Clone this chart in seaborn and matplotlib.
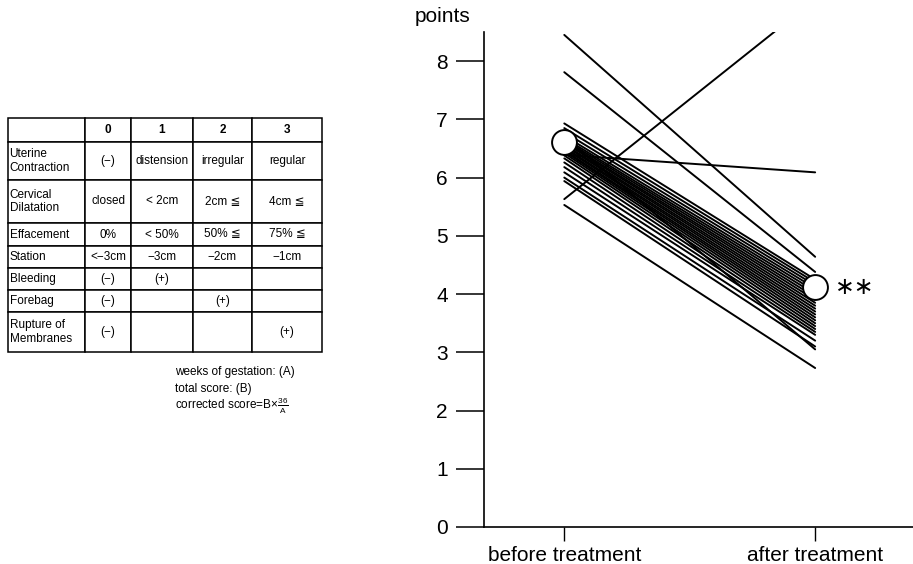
import pandas as pd
import numpy as np
import matplotlib
matplotlib.use("Agg")
import matplotlib.pyplot as plt
import seaborn as sns

# ---- data ----
time_labels = ["before treatment", "after treatment"]
before_scores = [8.45, 7.81, 5.63, 6.39, 6.93, 6.85, 6.78, 6.72, 6.68, 6.65,
                 6.62, 6.60, 6.57, 6.55, 6.52, 6.50, 6.47, 6.45, 6.42, 6.38,
                 6.33, 6.26, 6.18, 6.09, 6.00, 5.94, 5.53, 6.70]
after_scores = [4.64, 4.38, 9.06, 6.09, 4.25, 4.20, 4.15, 4.10, 4.05, 4.00,
                3.95, 3.90, 3.85, 3.80, 3.75, 3.70, 3.65, 3.60, 3.55, 3.50,
                3.45, 3.40, 3.35, 3.30, 3.20, 3.10, 2.73, 3.05]
mean_scores = [6.61, 4.12]
y_ticks = [0, 1, 2, 3, 4, 5, 6, 7, 8]

# scoring table
table_header = ["", "0", "1", "2", "3"]
table_rows = [
    ["Uterine\nContraction", "(\u2212)", "distension", "irregular", "regular"],
    ["Cervical\nDilatation", "closed", "< 2cm", "2cm \u2266", "4cm \u2266"],
    ["Effacement", "0%", "< 50%", "50% \u2266", "75% \u2266"],
    ["Station", "<\u22123cm", "\u22123cm", "\u22122cm", "\u22121cm"],
    ["Bleeding", "(\u2212)", "(+)", "", ""],
    ["Forebag", "(\u2212)", "", "(+)", ""],
    ["Rupture of\nMembranes", "(\u2212)", "", "", "(+)"],
]
table_notes = ["weeks of gestation: (A)", "total score: (B)",
               r"corrected score=B$\times\frac{36}{A}$"]

# long format for seaborn
n = len(before_scores)
df = pd.DataFrame({
    "patient": list(range(n)) * 2,
    "time": [0] * n + [1] * n,
    "score": before_scores + after_scores,
})
df_mean = pd.DataFrame({"time": [0, 1], "score": mean_scores})

sns.set_style("white")
plt.rcParams['font.family'] = ['Liberation Sans', 'DejaVu Sans']
plt.rcParams['mathtext.default'] = 'regular'
for key in ['text.color', 'axes.labelcolor', 'xtick.color', 'ytick.color']:
    plt.rcParams[key] = 'black'

W, H = 913, 564
fig = plt.figure(figsize=(W / 100, H / 100), dpi=100)

# ---- right: line chart ----
ax = fig.add_axes([484 / W, 1 - 527 / H, 1 - 484 / W, (527 - 32) / H])
sns.lineplot(data=df, x="time", y="score", units="patient", estimator=None,
             color="black", linewidth=1.4, ax=ax, legend=False)
sns.scatterplot(data=df_mean, x="time", y="score", s=320, facecolor="white",
                edgecolor="black", linewidth=1.4, zorder=5, ax=ax, legend=False)

ax.set_xlim(-0.32, 1.39)
ax.set_ylim(0, 8.5)
ax.set_xticks([0, 1])
ax.set_xticklabels(time_labels, fontsize=15)
ax.set_yticks(y_ticks)
ax.set_yticklabels([str(t) for t in y_ticks], fontsize=15)
ax.tick_params(axis="y", direction="out", length=20, width=1.1, pad=6, left=True)
ax.tick_params(axis="x", direction="out", length=10, width=1.0, pad=4, bottom=True)
ax.set_xlabel("")
ax.set_ylabel("")
for s in ["top", "right"]:
    ax.spines[s].set_visible(False)
for s in ["left", "bottom"]:
    ax.spines[s].set_color("black")
    ax.spines[s].set_linewidth(1.2)
fig.text(470 / W, 1 - 17 / H, "points", ha="right", va="center", fontsize=15)
ax.text(1.08, mean_scores[1], "\u2217\u2217", ha="left", va="center",
        fontsize=17, family=["DejaVu Sans"])

# ---- left: scoring table ----
tx0, tx1, ty0, ty1 = 8, 322, 118, 352
tab_ax = fig.add_axes([tx0 / W, 1 - ty1 / H, (tx1 - tx0) / W, (ty1 - ty0) / H])
tab_ax.axis("off")
tab = tab_ax.table(cellText=[table_header] + table_rows, bbox=[0, 0, 1, 1],
                   cellLoc="center")
tab.auto_set_font_size(False)
tab.set_fontsize(8.5)
col_w = [77, 46, 62, 59, 70]
row_h = [24, 38, 43, 23, 22, 22, 22, 40]
for (r, c), cell in tab.get_celld().items():
    cell.set_width(col_w[c])
    cell.set_height(row_h[r])
    cell.set_linewidth(1.1)
    cell.set_edgecolor("black")
    if c == 0:
        cell.set_text_props(ha="left")
        cell.PAD = 0.02
    if r == 0:
        cell.set_text_props(fontweight="bold")

for i, note in enumerate(table_notes):
    fig.text(175 / W, 1 - (372 + 17 * i) / H, note, fontsize=8.5, va="center",
             ha="left")

fig.savefig("out.png", dpi=100)
